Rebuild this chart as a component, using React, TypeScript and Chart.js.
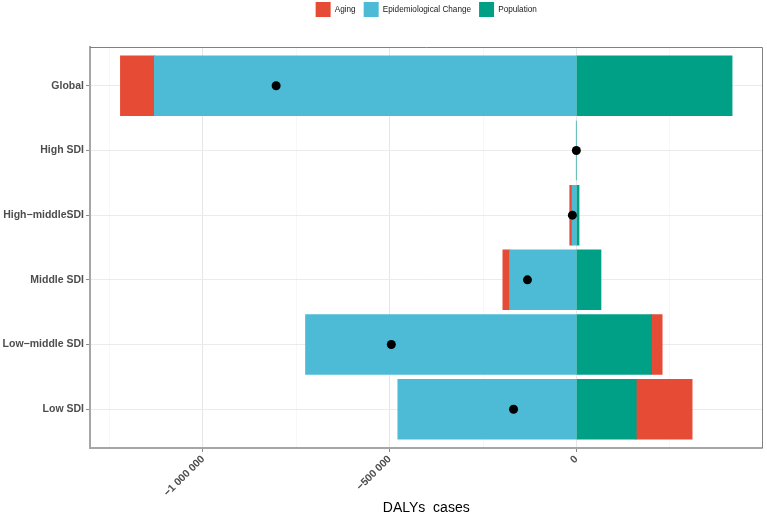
import React, { useEffect, useRef } from 'react';
import { Chart, registerables } from 'chart.js';

Chart.register(...registerables);

const categories = ['Global', 'High SDI', 'High\u2212middleSDI', 'Middle SDI', 'Low\u2212middle SDI', 'Low SDI'];
const aging = [-90900, 100, -6150, -17900, 28300, 149700];
const epidemiologicalChange = [-1129800, -250, -11230, -178600, -725000, -477800];
const population = [416600, 60, 6700, 65500, 201100, 159900];
const xTickValues = [-1250000, -1000000, -750000, -500000, -250000, 0, 250000];
const xLabelledTicks = [-1000000, -500000, 0];
const legendOrder = ['Aging', 'Epidemiological Change', 'Population'];

const FONT = "'Liberation Sans', Arial, Helvetica, sans-serif";

function fmt(v: number): string {
  if (v === 0) return '0';
  const s = Math.abs(v).toString().replace(/\B(?=(\d{3})+(?!\d))/g, ' ');
  return (v < 0 ? '\u2212' : '') + s;
}

const panelBorder = {
  id: 'panelBorder',
  afterDatasetsDraw(chart: any) {
    const { ctx, chartArea: a } = chart;
    ctx.save();
    ctx.strokeStyle = '#808080';
    ctx.lineWidth = 1;
    ctx.beginPath();
    ctx.moveTo(a.left, Math.round(a.top) + 0.5);
    ctx.lineTo(Math.round(a.right) - 0.5, Math.round(a.top) + 0.5);
    ctx.lineTo(Math.round(a.right) - 0.5, a.bottom);
    ctx.stroke();
    ctx.restore();
  },
};

const legendGap = {
  id: 'legendGap',
  beforeLayout(chart: any) {
    const legend = chart.legend;
    if (!legend || legend._gapPatched) return;
    const fit = legend.fit;
    legend.fit = function () {
      fit.call(this);
      this.height += 20;
    };
    legend._gapPatched = true;
  },
};

export default function App() {
  const ref = useRef<HTMLCanvasElement | null>(null);

  useEffect(() => {
    if (!ref.current) return;
    const idx = categories.map((_, i) => i + 1);
    const net = categories.map((_, i) => aging[i] + epidemiologicalChange[i] + population[i]);
    const negs = categories.map((_, i) => [aging[i], epidemiologicalChange[i], population[i]].filter(v => v < 0).reduce((s, v) => s + v, 0));
    const poss = categories.map((_, i) => [aging[i], epidemiologicalChange[i], population[i]].filter(v => v > 0).reduce((s, v) => s + v, 0));
    const lo = Math.min(...negs, ...net);
    const hi = Math.max(...poss, ...net);
    const span = hi - lo;
    const xMin = lo - 0.05 * span;
    const xMax = hi + 0.05 * span;

    const toData = (arr: number[]) => arr.map((v, i) => ({ x: v, y: idx[i] }));
    const barStyle = {
      borderWidth: 0,
      barPercentage: 0.92,
      categoryPercentage: 1,
      inflateAmount: (ctx: any) => (ctx.raw && Math.abs(ctx.raw.x) > 5000 ? 0.5 : 0),
    };

    const chart = new Chart(ref.current, {
      type: 'bar',
      data: {
        datasets: [
          {
            type: 'scatter',
            label: 'net',
            data: toData(net),
            backgroundColor: '#000000',
            borderWidth: 0,
            pointRadius: 4.5,
            pointHoverRadius: 4.5,
            order: -1,
            stack: 'dots',
          } as any,
          { label: 'Epidemiological Change', data: toData(epidemiologicalChange), backgroundColor: '#4DBBD5', ...barStyle },
          { label: 'Population', data: toData(population), backgroundColor: '#00A087', ...barStyle },
          { label: 'Aging', data: toData(aging), backgroundColor: '#E64B35', ...barStyle },
        ],
      },
      options: {
        indexAxis: 'y',
        animation: false,
        responsive: false,
        devicePixelRatio: 1,
        layout: { padding: { top: 0, left: 0, right: 3, bottom: 0 } },
        plugins: {
          tooltip: { enabled: false },
          legend: {
            display: true,
            position: 'top',
            fullSize: false,
            align: 'center',
            labels: {
              boxWidth: 15,
              boxHeight: 15,
              padding: 8,
              color: '#1A1A1A',
              font: { size: 8.2, family: FONT },
              filter: (item: any) => item.text !== 'net',
              sort: (a: any, b: any) => legendOrder.indexOf(a.text) - legendOrder.indexOf(b.text),
            },
          },
        },
        scales: {
          x: {
            type: 'linear',
            stacked: true,
            min: xMin,
            max: xMax,
            afterBuildTicks: (scale: any) => {
              scale.ticks = xTickValues.map(v => ({ value: v }));
            },
            afterFit: (scale: any) => {
              scale.height = 71;
            },
            ticks: {
              autoSkip: false,
              minRotation: 45,
              maxRotation: 45,
              padding: 1,
              color: '#4D4D4D',
              font: { size: 10.5, weight: 'bold', family: FONT },
              callback: (v: any) => (xLabelledTicks.includes(Number(v)) ? fmt(Number(v)) : ''),
            },
            grid: {
              drawTicks: true,
              tickLength: 4,
              color: (ctx: any) => (ctx.tick && xLabelledTicks.includes(ctx.tick.value) ? '#E6E6E6' : '#F2F2F2'),
              lineWidth: (ctx: any) => (ctx.tick && xLabelledTicks.includes(ctx.tick.value) ? 1 : 0.6),
              tickColor: (ctx: any) => (ctx.tick && xLabelledTicks.includes(ctx.tick.value) ? '#8C8C8C' : 'rgba(0,0,0,0)'),
            },
            border: { display: true, color: '#A6A6A6', width: 2 },
            title: {
              display: true,
              text: 'DALYs  cases',
              color: '#000000',
              font: { size: 14, family: FONT },
              padding: { top: 0, bottom: 2 },
            },
          },
          y: {
            type: 'linear',
            stacked: true,
            offset: false,
            reverse: true,
            min: 0.4,
            max: 6.6,
            afterBuildTicks: (scale: any) => {
              scale.ticks = idx.map(v => ({ value: v }));
            },
            afterFit: (scale: any) => {
              scale.width = 90;
            },
            ticks: {
              autoSkip: false,
              padding: 2,
              color: '#4D4D4D',
              font: { size: 10.5, weight: 'bold', family: FONT },
              callback: (v: any) => categories[Number(v) - 1] ?? '',
            },
            grid: {
              offset: false,
              drawTicks: true,
              tickLength: 4,
              color: '#EBEBEB',
              lineWidth: 1,
              tickColor: '#8C8C8C',
            },
            border: { display: true, color: '#A6A6A6', width: 2 },
          },
        },
      } as any,
      plugins: [panelBorder, legendGap],
    });

    return () => chart.destroy();
  }, []);

  return (
    <div style={{ position: 'absolute', left: 0, top: -6, width: 767, height: 525, background: '#ffffff' }}>
      <canvas ref={ref} width={767} height={525} style={{ width: 767, height: 525, display: 'block' }} />
    </div>
  );
}
